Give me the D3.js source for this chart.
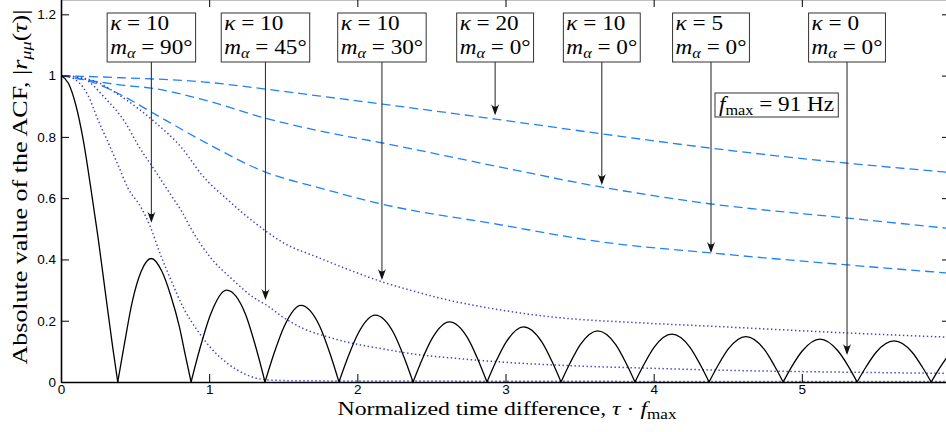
<!DOCTYPE html>
<html>
<head>
<meta charset="utf-8">
<script src="https://d3js.org/d3.v7.min.js"></script>
<style>
  body { margin: 0; background: white; }
  svg { display: block; }
</style>
</head>
<body>
<div class="chart"></div>
<script>
// |ACF| of the isotropic case (kappa = 0)
const isoCurve = [
  [0, 1], [0.05, 0.975], [0.1, 0.904], [0.15, 0.79], [0.2, 0.637], [0.25, 0.472], [0.3, 0.29], [0.35, 0.11], [0.383, 0],
  [0.43, 0.13], [0.48, 0.26], [0.54, 0.36], [0.61, 0.403], [0.68, 0.362], [0.74, 0.283], [0.8, 0.178], [0.84, 0.085], [0.878, 0],
  [0.938, 0.11], [1.008, 0.219], [1.117, 0.3], [1.247, 0.219], [1.317, 0.11], [1.377, 0],
  [1.437, 0.092], [1.507, 0.182], [1.619, 0.25], [1.746, 0.182], [1.816, 0.092], [1.876, 0],
  [1.936, 0.08], [2.006, 0.159], [2.121, 0.218], [2.246, 0.159], [2.316, 0.08], [2.376, 0],
  [2.436, 0.072], [2.506, 0.143], [2.621, 0.196], [2.745, 0.143], [2.815, 0.072], [2.875, 0],
  [2.935, 0.066], [3.005, 0.131], [3.122, 0.18], [3.245, 0.131], [3.315, 0.066], [3.375, 0],
  [3.435, 0.061], [3.505, 0.122], [3.622, 0.167], [3.744, 0.122], [3.814, 0.061], [3.874, 0],
  [3.934, 0.057], [4.004, 0.114], [4.122, 0.156], [4.244, 0.114], [4.314, 0.057], [4.374, 0],
  [4.434, 0.054], [4.504, 0.108], [4.622, 0.148], [4.744, 0.108], [4.814, 0.054], [4.874, 0],
  [4.934, 0.052], [5.004, 0.102], [5.122, 0.14], [5.243, 0.102], [5.313, 0.052], [5.373, 0],
  [5.433, 0.049], [5.503, 0.098], [5.622, 0.134], [5.743, 0.098], [5.813, 0.049], [5.873, 0],
  [5.933, 0.048], [6.0, 0.095]
];

// kappa = 10, dotted
const m90Curve = [
  [0, 1], [0.061, 0.995], [0.182, 0.936], [0.25, 0.855], [0.317, 0.783], [0.385, 0.708], [0.452, 0.633],
  [0.54, 0.57], [0.6, 0.51], [0.668, 0.42], [0.749, 0.325], [0.823, 0.245], [0.918, 0.17], [1.006, 0.114],
  [1.12, 0.062], [1.255, 0.023], [1.39, 0.007], [1.6, 0.004], [2.5, 0.003], [4, 0.002], [6, 0.002]
];
const m45Curve = [
  [0, 1], [0.142, 0.992], [0.297, 0.927], [0.432, 0.848], [0.52, 0.773], [0.634, 0.69], [0.749, 0.605],
  [0.817, 0.555], [0.871, 0.506], [1.006, 0.408], [1.161, 0.333], [1.296, 0.277], [1.39, 0.25], [1.498, 0.212],
  [1.633, 0.175], [1.795, 0.148], [1.95, 0.128], [2.173, 0.108], [2.4, 0.09], [2.625, 0.079], [2.95, 0.066],
  [3.5, 0.052], [3.9, 0.046], [4.5, 0.038], [5.3, 0.032], [6, 0.028]
];
const m30Curve = [
  [0, 1], [0.209, 0.985], [0.412, 0.93], [0.634, 0.848], [0.817, 0.763], [0.952, 0.675], [1.127, 0.594],
  [1.228, 0.551], [1.39, 0.49], [1.498, 0.455], [1.728, 0.408], [1.95, 0.365], [2.173, 0.326], [2.4, 0.294],
  [2.625, 0.266], [2.93, 0.238], [3.3, 0.213], [3.91, 0.193], [4.39, 0.182], [5.31, 0.16], [6, 0.146]
];

// m_alpha = 0 deg, dashed
const k20Curve = [
  [0, 1], [0.41, 0.993], [0.97, 0.979], [1.38, 0.956], [1.75, 0.933], [2.17, 0.907], [2.93, 0.858],
  [3.65, 0.81], [4.39, 0.763], [5.31, 0.714], [6, 0.684]
];
const k10Curve = [
  [0, 1], [0.18, 0.985], [0.41, 0.969], [0.61, 0.959], [0.97, 0.92], [1.38, 0.861], [1.75, 0.819],
  [2.17, 0.78], [2.93, 0.705], [3.65, 0.636], [4.39, 0.581], [5.31, 0.535], [6, 0.501]
];
const k5Curve = [
  [0, 1], [0.21, 0.979], [0.41, 0.936], [0.61, 0.881], [0.97, 0.783], [1.38, 0.685], [1.75, 0.633],
  [2.17, 0.58], [2.93, 0.516], [3.65, 0.457], [4.39, 0.421], [5.31, 0.382], [6, 0.355]
];

const xTicks = [0, 1, 2, 3, 4, 5];
const yTicks = [0, 0.2, 0.4, 0.6, 0.8, 1, 1.2];

// annotation boxes: kappa, m_alpha, where the arrow points
const labelKappa = ["10", "10", "10", "20", "10", "5", "0"];
const labelM = ["90", "45", "30", "0", "0", "0", "0"];
const arrowX = [0.61, 1.38, 2.166, 2.93, 3.65, 4.387, 5.305];
const arrowY = [0.52, 0.268, 0.333, 0.871, 0.643, 0.421, 0.088];
const fmaxHz = 91;

const svgWidth = 946,
  svgHeight = 432,
  plotLeft = 61,
  plotRight = 950,
  plotTop = -1,
  plotBottom = 382,
  dashColor = "#1e82ff",
  dotColor = "#4040cc",
  serif = "'Liberation Serif', 'DejaVu Serif', serif",
  sans = "'Liberation Sans', Arial, sans-serif",
  wide = 1.16; // the TeX font runs wider than Liberation Serif

const svg = d3
  .select(".chart")
  .append("svg")
  .attr("width", svgWidth)
  .attr("height", svgHeight);

const xScale = d3.scaleLinear().domain([0, 6]).range([plotLeft, plotRight]);
const yScale = d3.scaleLinear().domain([0, 1.25]).range([plotBottom, plotTop]);

svg
  .append("clipPath")
  .attr("id", "plot")
  .append("rect")
  .attr("x", plotLeft)
  .attr("y", plotTop)
  .attr("width", plotRight - plotLeft)
  .attr("height", plotBottom - plotTop);

const line = d3
  .line()
  .x((d) => xScale(d[0]))
  .y((d) => yScale(d[1]))
  .curve(d3.curveMonotoneX);

const curves = svg.append("g").attr("clip-path", "url(#plot)");

[k20Curve, k10Curve, k5Curve].forEach((c) => {
  curves
    .append("path")
    .attr("d", line(c))
    .attr("fill", "none")
    .attr("stroke", dashColor)
    .attr("stroke-width", 1.3)
    .attr("stroke-dasharray", "9,5");
});

[m90Curve, m45Curve, m30Curve].forEach((c) => {
  curves
    .append("path")
    .attr("d", line(c))
    .attr("fill", "none")
    .attr("stroke", dotColor)
    .attr("stroke-width", 1.5)
    .attr("stroke-dasharray", "1.4,2.6");
});

// split the isotropic curve into arches at its zeros, so the cusps stay sharp
const arches = [];
let arch = [];
isoCurve.forEach((p) => {
  arch.push(p);
  if (p[1] === 0 && arch.length > 1) {
    arches.push(arch);
    arch = [p];
  }
});
if (arch.length > 1) arches.push(arch);

curves
  .selectAll(".arch")
  .data(arches)
  .enter()
  .append("path")
  .attr("d", line)
  .attr("fill", "none")
  .attr("stroke", "black")
  .attr("stroke-width", 1.3);

// axes, ticks pointing inwards
const fmt = d3.format("~g");

svg
  .append("g")
  .attr("transform", `translate(0, ${plotBottom})`)
  .call(d3.axisBottom(xScale).tickValues(xTicks).tickFormat(fmt).tickSize(-8).tickSizeOuter(0).tickPadding(2.5));

svg
  .append("g")
  .attr("transform", `translate(${plotLeft}, 0)`)
  .call(d3.axisLeft(yScale).tickValues(yTicks).tickFormat(fmt).tickSize(-8).tickSizeOuter(0).tickPadding(5));

svg
  .append("g")
  .attr("transform", `translate(0, ${plotTop})`)
  .call(d3.axisTop(xScale).tickValues(xTicks.slice(1)).tickFormat("").tickSize(-8).tickSizeOuter(0));

svg
  .append("g")
  .attr("transform", `translate(${plotRight}, 0)`)
  .call(d3.axisRight(yScale).tickValues(yTicks.slice(1)).tickFormat("").tickSize(-8).tickSizeOuter(0));

svg.selectAll(".domain").attr("stroke-width", 1.6);
svg.selectAll(".tick line").attr("stroke-width", 1);
svg.selectAll(".tick text").style("font", `13.5px ${sans}`).attr("fill", "black");

// axis titles, stretched to the width of the TeX originals
svg
  .append("text")
  .attr("x", 507)
  .attr("y", 414.5)
  .attr("text-anchor", "middle")
  .attr("textLength", 339)
  .attr("lengthAdjust", "spacingAndGlyphs")
  .style("font", `19.5px ${serif}`)
  .call((t) => {
    t.append("tspan").text("Normalized time difference, ");
    t.append("tspan").style("font-style", "italic").text("τ");
    t.append("tspan").text(" · ");
    t.append("tspan").style("font-style", "italic").text("f");
    t.append("tspan").attr("dy", 4).style("font-size", "14px").text("max");
  });

svg
  .append("text")
  .attr("transform", "translate(27, 187) rotate(-90)")
  .attr("text-anchor", "middle")
  .attr("textLength", 355)
  .attr("lengthAdjust", "spacingAndGlyphs")
  .style("font", `20px ${serif}`)
  .call((t) => {
    t.append("tspan").text("Absolute value of the ACF, |");
    t.append("tspan").style("font-style", "italic").text("r");
    t.append("tspan").attr("dy", 4).style("font-size", "14px").style("font-style", "italic").text("μμ");
    t.append("tspan").attr("dy", -4).text("(");
    t.append("tspan").style("font-style", "italic").text("τ");
    t.append("tspan").text(")|");
  });

// one line of TeX-like math: italic symbol, optional subscript, "=", value
function mathLine(parent, sym, sub, subItalic, value) {
  const t = parent.append("text").style("font", `20px ${serif}`);
  t.append("tspan").style("font-style", "italic").text(sym);
  if (sub) {
    t.append("tspan")
      .attr("dy", 4)
      .style("font-size", "14px")
      .style("font-style", subItalic ? "italic" : "normal")
      .text(sub);
  }
  t.append("tspan").attr("dy", sub ? -4 : 0).attr("dx", 5).text("=");
  t.append("tspan").attr("dx", 5).text(value);
  return t;
}

// annotation boxes with arrows
const boxTop = 13,
  boxBottom = 62;

labelKappa.forEach((k, i) => {
  const cx = xScale(arrowX[i]);
  const tipY = yScale(arrowY[i]);

  svg
    .append("line")
    .attr("x1", cx)
    .attr("x2", cx)
    .attr("y1", boxBottom)
    .attr("y2", tipY - 2)
    .attr("stroke", "#333")
    .attr("stroke-width", 1.1);

  svg
    .append("path")
    .attr("d", `M${cx},${tipY} L${cx - 4},${tipY - 11} Q${cx},${tipY - 6} ${cx + 4},${tipY - 11} Z`)
    .attr("fill", "#111");

  const g = svg.append("g").attr("transform", `translate(${cx}, ${boxTop})`);
  const rect = g.append("rect");

  const line1 = mathLine(g, "κ", null, false, k);
  const line2 = mathLine(g, "m", "α", true, `${labelM[i]}°`);

  const w = wide * Math.max(line1.node().getBBox().width, line2.node().getBBox().width);
  line1.attr("transform", `translate(${-w / 2}, 17) scale(${wide}, 1)`);
  line2.attr("transform", `translate(${-w / 2}, 40.5) scale(${wide}, 1)`);
  rect
    .attr("x", -w / 2 - 3)
    .attr("y", 0)
    .attr("width", w + 6)
    .attr("height", boxBottom - boxTop)
    .attr("fill", "white")
    .attr("stroke", "#333")
    .attr("stroke-width", 1);
});

// f_max box
const fg = svg.append("g").attr("transform", "translate(715, 93)");
const frect = fg.append("rect");
const ftext = mathLine(fg, "f", "max", false, `${fmaxHz} Hz`);
const fw = wide * ftext.node().getBBox().width;
ftext.attr("transform", `translate(4, 17.5) scale(${wide}, 1)`);
frect
  .attr("x", 0)
  .attr("y", 0)
  .attr("width", fw + 8)
  .attr("height", 24)
  .attr("fill", "white")
  .attr("stroke", "#333")
  .attr("stroke-width", 1);
</script>
</body>
</html>
